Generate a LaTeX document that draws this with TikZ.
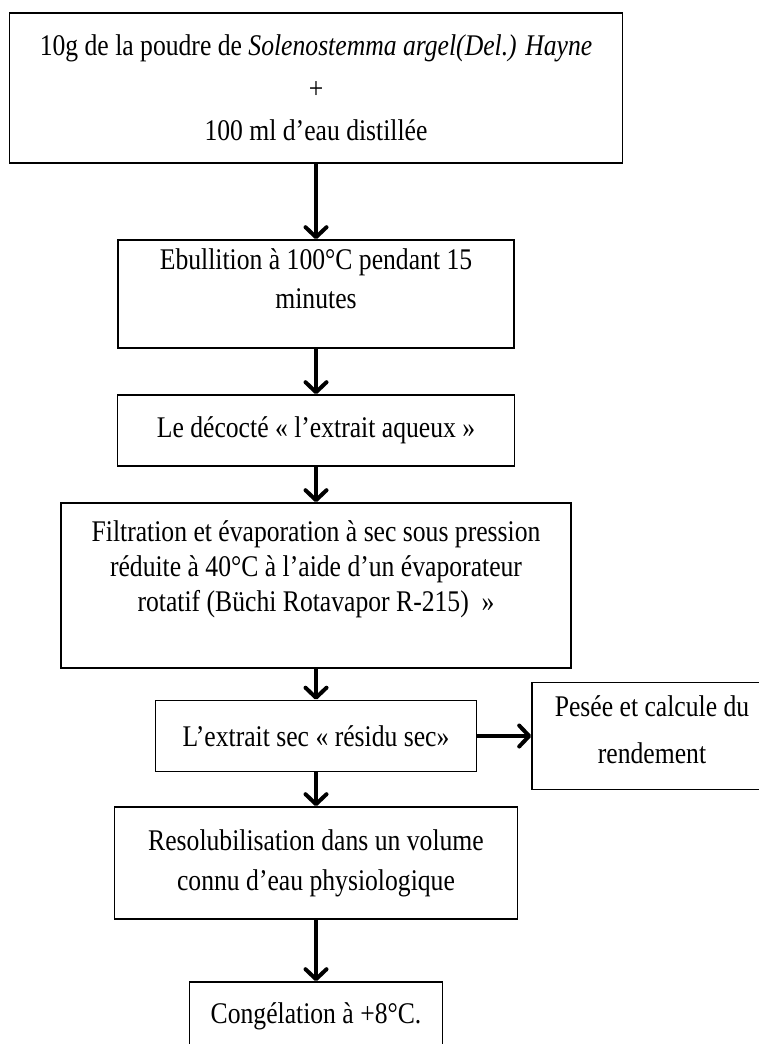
\documentclass[tikz,border=0pt]{standalone}
\usepackage{fontspec}
\setmainfont{Liberation Serif}[FakeStretch=0.855]
\usetikzlibrary{arrows.meta}

\begin{document}
\begin{tikzpicture}[
    x=1pt, y=-1pt,
    font=\fontsize{30}{40}\selectfont,
    stepbox/.style = {draw=black, line width=1.6pt, rectangle, align=center, inner sep=0pt},
    lsp/.style     = {font=\fontsize{30}{#1}\selectfont},
    flow/.style    = {-{Straight Barb[length=10pt, width=21pt, round]}, line width=4pt},
]
\useasboundingbox (0,0) rectangle (758,1044);

%======== main column of steps ========
\node[stepbox, lsp=42.5, minimum width=613pt, minimum height=150pt] (powder) at (316,88)
  {10g de la poudre de \textit{Solenostemma argel(Del.) Hayne}\\+\\100 ml d’eau distillée};
\node[stepbox, lsp=39, minimum width=396pt, minimum height=108pt] (boil) at (316,294)
  {Ebullition à 100°C pendant 15\\minutes\rule[-30pt]{0pt}{30pt}};
\node[stepbox, minimum width=397pt, minimum height=71pt] (decoct) at (316,430.5)
  {Le décocté « l’extrait aqueux »};
\node[stepbox, lsp=35, minimum width=510pt, minimum height=165pt] (filt) at (316,585.5)
  {Filtration et évaporation à sec sous pression\\réduite à 40°C à l’aide d’un évaporateur\\rotatif (Büchi Rotavapor R-215)~~»\rule[-38pt]{0pt}{38pt}};
\node[stepbox, minimum width=321pt, minimum height=71pt] (dry) at (316,736)
  {L’extrait sec « résidu sec»};
\node[stepbox, lsp=40, minimum width=403pt, minimum height=112pt] (resol) at (316,863)
  {Resolubilisation dans un volume\\connu d’eau physiologique};
\node[stepbox, minimum width=253pt, minimum height=68pt] (freeze) at (316,1016)
  {Congélation à +8°C.};

% --- side step
\node[stepbox, lsp=47, minimum width=240pt, minimum height=107pt] (yield) at (652,736)
  {Pesée et calcule du\\rendement\rule[-13pt]{0pt}{13pt}};

%======== arrows ========
\draw[flow] (powder) -- (boil);
\draw[flow] (boil) -- (decoct);
\draw[flow] (decoct) -- (filt);
\draw[flow] (filt) -- (dry);
\draw[flow] (dry) -- (resol);
\draw[flow] (resol) -- (freeze);
\draw[flow] (dry) -- (yield);

\end{tikzpicture}
\end{document}
